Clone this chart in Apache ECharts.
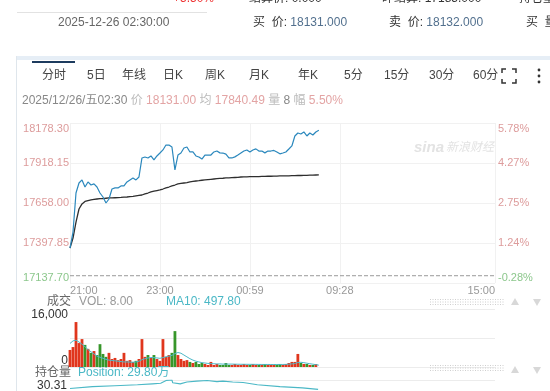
<!DOCTYPE html>
<html><head><meta charset="utf-8">
<script src="https://cdn.jsdelivr.net/npm/echarts@6/dist/echarts.min.js"></script>
<style>html,body{margin:0;padding:0;background:#fff}#c{width:550px;height:391px}</style>
</head><body><div id="c"></div>
<script>
// ---------- data ----------
const PRE_CLOSE = 17185;
const STEP_MIN = 4;              // minutes between samples (from 21:00)
const SESSION_MINUTES = 567;     // full width of the time axis
const timeTickMinutes = [0, 120, 240, 360, 567];
const timeLabels = ['21:00', '23:00', '00:59', '09:28', '15:00'];
const priceTicks = [17137.70, 17397.85, 17658.00, 17918.15, 18178.30];
const volTicks = [0, 8000, 16000];
const posTicks = [30.31];
const POS_MIN = 29.71;

const prices = [17365,17469,17723,17788,17808,17762,17795,17775,17782,17762,
 17723,17697,17658,17684,17749,17756,17756,17769,17769,17795,
 17808,17821,17808,17827,17951,17957,17951,17964,17938,17964,
 17983,18003,18035,18035,18022,17873,17970,17983,18016,18022,
 17990,17990,17964,17957,17944,17970,17970,17970,17990,17996,
 17984,17983,17976,17951,17951,17958,17970,17983,17996,18003,
 17990,18003,18010,17996,17996,17984,17996,17996,18000,17990,
 17978,17983,17990,18009,18029,18094,18113,18107,18120,18094,
 18113,18100,18120,18131];
const avgPrices = [17365,17430,17534,17619,17652,17668,17674,17678,17681,17684,
 17686,17687,17689,17691,17691,17692,17693,17694,17696,17697,
 17699,17701,17704,17707,17710,17717,17723,17730,17735,17739,
 17743,17749,17756,17762,17769,17775,17782,17785,17788,17791,
 17795,17798,17801,17803,17806,17808,17810,17812,17814,17816,
 17818,17819,17821,17822,17823,17824,17825,17827,17828,17828,
 17829,17829,17830,17830,17831,17831,17832,17832,17833,17833,
 17834,17834,17835,17835,17836,17836,17837,17837,17838,17838,
 17839,17839,17840,17840.49];
const volumes = [4700,5500,12400,6600,7700,6100,5000,3900,4400,3300,
 6300,3600,2800,3900,2200,2500,1900,2200,3900,1700,
 1900,1400,1700,2200,7700,2800,3300,2500,3300,2200,
 1700,7700,2800,3300,3900,9900,3300,2200,1700,1900,
 1400,1100,1400,830,1100,830,550,1400,550,830,
 550,550,1100,550,550,830,550,550,830,550,
 550,830,550,550,550,830,550,550,550,550,
 830,550,830,1100,1400,1400,3600,1100,830,830,
 550,550,830,8];
const volMA10 = [6500,7200,7400,6900,6300,5600,4800,4200,3600,3000,
 2700,2400,2100,1900,1800,1700,1600,1500,1400,1400,
 1350,1300,1400,1600,2000,2300,2500,2600,2600,2500,
 2400,2600,2800,3000,3200,3700,4000,3800,3300,2800,
 2300,1900,1600,1400,1200,1100,1000,950,900,850,
 850,800,800,800,800,780,760,750,750,740,
 730,730,720,710,700,700,700,690,690,690,
 700,700,720,780,850,950,1250,1300,1200,1050,
 900,780,650,498];
const posTimes = [0,30,60,90,110,121,129,136,137,147,156,169,183,196,204,217,231,250,280,310,331];
const posValues = [29.85,29.95,30.00,30.05,30.10,30.13,30.29,30.31,30.16,30.10,30.20,30.25,30.28,30.22,30.25,30.20,30.17,30.05,29.95,29.88,29.80];

// ---------- styling ----------
const FONT = '"Liberation Sans", Arial, "Noto Sans CJK SC", sans-serif';
const UP = '#e0361d', DOWN = '#37962a', PINK = '#dd9c9c', GREENTXT = '#8cc78c', TEAL = '#4bb8c6';

const priceData = prices.map((v, i) => [i * STEP_MIN, v]);
const avgData = avgPrices.map((v, i) => [i * STEP_MIN, v]);
const volData = volumes.map((v, i) => ({
  value: [i * STEP_MIN, v],
  itemStyle: { color: (i === 0 || prices[i] >= prices[i - 1]) ? UP : DOWN }
}));
const maData = volMA10.map((v, i) => [i * STEP_MIN, v]);
const posData = posValues.map((v, i) => [posTimes[i], v]);
const preCloseData = [[0, PRE_CLOSE], [SESSION_MINUTES, PRE_CLOSE]];

function T(text, x, y, o) {
  return { type: 'text', silent: true, z: 10,
    style: Object.assign({ text, x, y, fill: '#333', font: '12px ' + FONT, align: 'left', verticalAlign: 'middle' }, o || {}) };
}
function L(x1, y1, x2, y2, stroke, w, dash) {
  return { type: 'line', silent: true, z: 10, shape: { x1, y1, x2, y2 }, style: { stroke, lineWidth: w || 1, lineDash: dash || null } };
}
function PL(points, stroke, w) {
  return { type: 'polyline', silent: true, z: 10, shape: { points }, style: { stroke, lineWidth: w || 1, fill: null } };
}
function TRI(cx, cy, up) {
  const p = up ? [[cx - 4, cy + 3], [cx + 4, cy + 3], [cx, cy - 4]] : [[cx - 4, cy - 3], [cx + 4, cy - 3], [cx, cy + 4]];
  return { type: 'polygon', silent: true, z: 10, shape: { points: p }, style: { fill: '#d8d8d8' } };
}

const tabs = ['分时', '5日', '年线', '日K', '周K', '月K', '年K', '5分', '15分', '30分', '60分'];
const tabLeft = [42, 87, 122, 163, 205, 249, 298, 344, 384, 429, 473];

const graphics = [];
// header (cut at top)
graphics.push(T('+5.50%', 214, -1, { fill: '#e33', align: 'right' }));
graphics.push(T('结算价: 0.000', 249, -1));
graphics.push(T('昨结算: 17185.000', 382, -1));
graphics.push(T('持仓量', 519, -1));
graphics.push(L(17, 12.5, 207, 12.5, '#e2e2e2', 1));
graphics.push(T('2025-12-26 02:30:00', 58, 23, { fill: '#666' }));
graphics.push(T('{l|买  价:} {v|18131.000}', 253, 23, { rich: { l: { fill: '#333', font: '12px ' + FONT }, v: { fill: '#52708e', font: '12px ' + FONT } } }));
graphics.push(T('{l|卖  价:} {v|18132.000}', 389, 23, { rich: { l: { fill: '#333', font: '12px ' + FONT }, v: { fill: '#52708e', font: '12px ' + FONT } } }));
graphics.push(T('买  量', 526, 23));
// panel frame
graphics.push({ type: 'rect', silent: true, z: 9, shape: { x: 17, y: 56, width: 533, height: 4 }, style: { fill: '#e6eef6' } });
graphics.push(L(16.5, 56, 16.5, 391, '#dfe6ec', 1));
graphics.push({ type: 'rect', silent: true, z: 10, shape: { x: 32, y: 61, width: 43, height: 2 }, style: { fill: '#1d3b5e' } });
tabs.forEach((t, i) => graphics.push(T(t, tabLeft[i], 76, { fill: '#444' })));
// full-screen icon
graphics.push(PL([[502, 73], [502, 69], [506, 69]], '#333', 1.5));
graphics.push(PL([[512, 69], [516, 69], [516, 73]], '#333', 1.5));
graphics.push(PL([[502, 79], [502, 83], [506, 83]], '#333', 1.5));
graphics.push(PL([[512, 83], [516, 83], [516, 79]], '#333', 1.5));
[70, 76, 82].forEach(y => graphics.push({ type: 'circle', silent: true, z: 10, shape: { cx: 539, cy: y, r: 1.4 }, style: { fill: '#333' } }));
// info line
graphics.push(T('{a|2025/12/26/五02:30} {b|价} {c|18131.00} {b|均} {c|17840.49} {b|量} {a|8} {b|幅} {c|5.50%}', 22, 101, {
  rich: {
    a: { fill: '#888', font: '12px ' + FONT },
    b: { fill: '#bbb', font: '12px ' + FONT },
    c: { fill: '#e3a4a4', font: '12px ' + FONT }
  }
}));
// watermark
graphics.push(T('sina', 414, 148, { fill: '#e3e3e3', font: 'italic bold 15px ' + FONT }));
graphics.push(T('新浪财经', 446, 148, { fill: '#e3e3e3', font: 'italic 12px ' + FONT }));
// volume header
graphics.push(T('成交', 47, 302, { fill: '#666' }));
graphics.push(T('VOL: 8.00', 79, 302, { fill: '#999' }));
graphics.push(T('MA10: 497.80', 166, 302, { fill: TEAL }));
// position header
graphics.push(T('持仓量', 35, 373, { fill: '#666' }));
graphics.push(T('Position: 29.80万', 78, 373, { fill: TEAL }));
// dotted handles and arrows
[299.5, 302, 304.5, 365.5, 368, 370.5].forEach(y => graphics.push(L(430, y, 505, y, '#cfcfcf', 1, [1, 1.5])));
graphics.push(TRI(515, 302, true)); graphics.push(TRI(537, 302, false));
graphics.push(TRI(515, 370, true)); graphics.push(TRI(537, 370, false));

const hiddenX = (g) => ({ gridIndex: g, type: 'value', min: 0, max: SESSION_MINUTES,
  axisLine: { show: false }, axisTick: { show: false }, axisLabel: { show: false }, splitLine: { show: false } });

const option = {
  animation: false,
  backgroundColor: '#fff',
  grid: [
    { left: 70, right: 55, top: 123, height: 160 },
    { left: 70, right: 55, top: 309, height: 58 },
    { left: 70, right: 55, top: 380, height: 40 }
  ],
  xAxis: [
    { gridIndex: 0, type: 'value', min: 0, max: SESSION_MINUTES,
      axisLine: { show: false },
      axisTick: { show: false, customValues: timeTickMinutes },
      axisLabel: { customValues: timeTickMinutes, formatter: v => timeLabels[timeTickMinutes.indexOf(Number(v))] || '',
        color: '#999', fontSize: 11, fontFamily: FONT, margin: 2, alignMinLabel: 'left', alignMaxLabel: 'right' },
      splitLine: { show: true, lineStyle: { color: '#f1f1f1', width: 1 } } },
    hiddenX(1), hiddenX(2)
  ],
  yAxis: [
    { gridIndex: 0, type: 'value', position: 'left', min: priceTicks[0], max: priceTicks[priceTicks.length - 1],
      axisLine: { show: false }, axisTick: { show: false, customValues: priceTicks },
      axisLabel: { customValues: priceTicks, formatter: v => Number(v).toFixed(2), fontSize: 11, fontFamily: FONT, margin: 1,
        color: v => Number(v) < PRE_CLOSE ? GREENTXT : PINK, verticalAlignMaxLabel: 'top', verticalAlignMinLabel: 'bottom' },
      splitLine: { show: true, lineStyle: { color: '#f1f1f1' } } },
    { gridIndex: 0, type: 'value', position: 'right', min: priceTicks[0], max: priceTicks[priceTicks.length - 1],
      axisLine: { show: false }, axisTick: { show: false, customValues: priceTicks },
      axisLabel: { customValues: priceTicks, formatter: v => ((Number(v) / PRE_CLOSE - 1) * 100).toFixed(2) + '%', fontSize: 11, fontFamily: FONT, margin: 3,
        color: v => Number(v) < PRE_CLOSE ? GREENTXT : PINK, verticalAlignMaxLabel: 'top', verticalAlignMinLabel: 'bottom' },
      splitLine: { show: false } },
    { gridIndex: 1, type: 'value', min: volTicks[0], max: volTicks[volTicks.length - 1],
      axisLine: { show: false }, axisTick: { show: false, customValues: volTicks },
      axisLabel: { customValues: [volTicks[0], volTicks[volTicks.length - 1]], color: '#333', fontSize: 12, fontFamily: FONT, margin: 2,
        verticalAlignMaxLabel: 'top', verticalAlignMinLabel: 'bottom' },
      splitLine: { show: true, lineStyle: { color: '#ececec' } } },
    { gridIndex: 2, type: 'value', min: POS_MIN, max: posTicks[0],
      axisLine: { show: false }, axisTick: { show: false, customValues: posTicks },
      axisLabel: { customValues: posTicks, formatter: v => Number(v).toFixed(2), color: '#333', fontSize: 12, fontFamily: FONT, margin: 3,
        verticalAlignMaxLabel: 'top', verticalAlign: 'top' },
      splitLine: { show: true, lineStyle: { color: '#ececec' } } }
  ],
  series: [
    { type: 'line', xAxisIndex: 0, yAxisIndex: 0, data: preCloseData, showSymbol: false, symbol: 'none', silent: true,
      clip: false, lineStyle: { color: '#999999', type: 'dashed', width: 1, opacity: 1 }, z: 5 },
    { type: 'line', xAxisIndex: 0, yAxisIndex: 0, data: priceData, showSymbol: false, symbol: 'none',
      lineStyle: { color: '#2b88bd', width: 1.2 }, z: 3 },
    { type: 'line', xAxisIndex: 0, yAxisIndex: 0, data: avgData, showSymbol: false, symbol: 'none',
      lineStyle: { color: '#2e2e2e', width: 1.3 }, z: 2 },
    { type: 'bar', xAxisIndex: 1, yAxisIndex: 2, data: volData, barWidth: 2.8 },
    { type: 'line', xAxisIndex: 1, yAxisIndex: 2, data: maData, showSymbol: false, symbol: 'none',
      lineStyle: { color: TEAL, width: 1 }, z: 4 },
    { type: 'line', xAxisIndex: 2, yAxisIndex: 3, data: posData, showSymbol: false, symbol: 'none',
      lineStyle: { color: TEAL, width: 1.1 } }
  ],
  graphic: graphics
};

const chart = echarts.init(document.getElementById('c'), null, { renderer: 'canvas' });
chart.setOption(option);
</script>
</body></html>
